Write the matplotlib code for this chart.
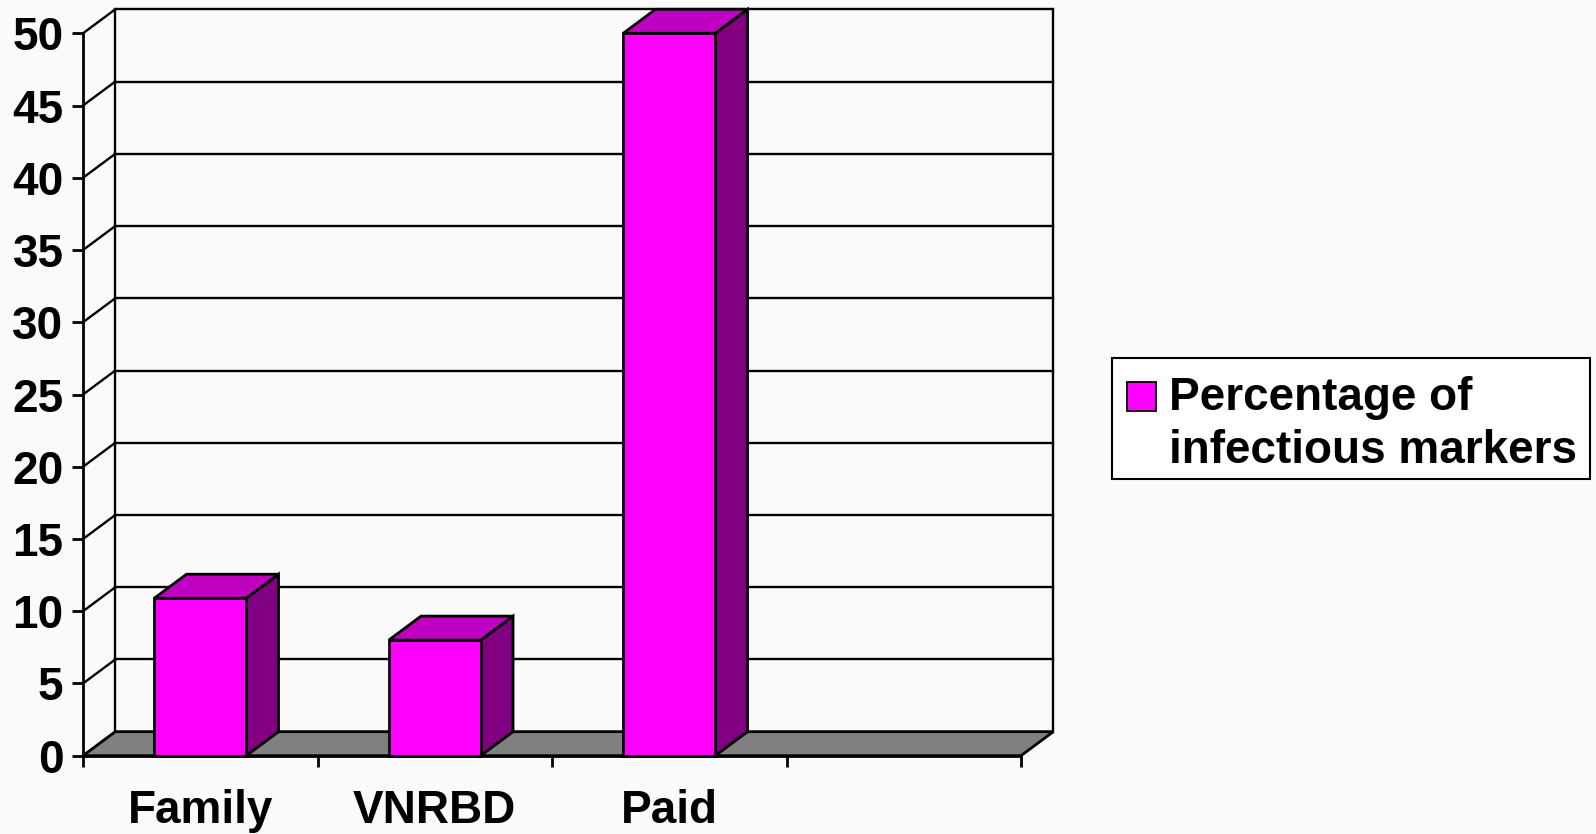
import matplotlib
matplotlib.use("Agg")
import matplotlib.pyplot as plt
from matplotlib.patches import Polygon, Rectangle

# ---- data ----
categories = ["Family", "VNRBD", "Paid", ""]
values = [10.9, 8, 50]
legend_lines = ["Percentage of", "infectious markers"]
yticks = [0, 5, 10, 15, 20, 25, 30, 35, 40, 45, 50]

# ---- style ----
BG = "#fafafa"
FRONT = "#ff00ff"
TOP = "#c000c0"
SIDE = "#800080"
FLOOR = "#808080"
FONT = "Liberation Sans"

W, H = 1596, 834
fig = plt.figure(figsize=(W / 100, H / 100), dpi=100)
fig.patch.set_facecolor(BG)

ax = fig.add_axes([83 / W, (834 - 755.7) / H, 938 / W, (755.7 - 33.3) / H])
ax.set_facecolor("none")
n = len(categories)
ax.set_xlim(0, n)
ax.set_ylim(0, 50)

# depth offsets (in data units)
ddx = 32.3 / (938 / n)
ddy = 24 / ((755.7 - 33.3) / 50)

lw = 2.0
glw = 1.7
kw = dict(clip_on=False, color="black")

# back wall
ax.add_patch(Rectangle((ddx, ddy), n, 50, facecolor=BG, edgecolor="black",
                       lw=glw, clip_on=False, zorder=1))
# gridlines on back wall + diagonals on side wall
for v in yticks:
    if 0 < v < 50:
        ax.plot([ddx, n + ddx], [v + ddy, v + ddy], zorder=2, lw=glw, **kw)
    ax.plot([0, ddx], [v, v + ddy], zorder=2, lw=glw, **kw)

# floor
ax.add_patch(Polygon([(0, 0), (n, 0), (n + ddx, ddy), (ddx, ddy)],
                     closed=True, facecolor=FLOOR, edgecolor="black",
                     lw=lw, clip_on=False, zorder=3))

# bars
bw = 92 / (938 / n)
for i, v in enumerate(values):
    x0 = i + 0.5 - bw / 2
    x1 = i + 0.5 + bw / 2
    ax.add_patch(Polygon([(x1, 0), (x1 + ddx, ddy), (x1 + ddx, v + ddy), (x1, v)],
                         closed=True, facecolor=SIDE, edgecolor="black",
                         lw=lw, clip_on=False, zorder=4, joinstyle="miter"))
    ax.add_patch(Polygon([(x0, v), (x1, v), (x1 + ddx, v + ddy), (x0 + ddx, v + ddy)],
                         closed=True, facecolor=TOP, edgecolor="black",
                         lw=lw, clip_on=False, zorder=4, joinstyle="miter"))
    ax.add_patch(Rectangle((x0, 0), bw, v, facecolor=FRONT, edgecolor="black",
                           lw=lw, clip_on=False, zorder=5, joinstyle="miter"))

# axes / ticks
for s in ["top", "right"]:
    ax.spines[s].set_visible(False)
for s in ["left", "bottom"]:
    ax.spines[s].set_linewidth(lw)
    ax.spines[s].set_zorder(6)

ax.set_yticks(yticks)
ax.set_yticklabels([str(t) for t in yticks], fontfamily=FONT,
                   fontweight="bold", fontsize=33)
ax.tick_params(axis="y", direction="out", length=8, width=lw, pad=6)

ax.set_xticks(range(n + 1))
ax.set_xticklabels([])
ax.tick_params(axis="x", which="major", direction="out", length=8, width=lw)
ax.set_xticks([i + 0.5 for i in range(n)], minor=True)
ax.set_xticklabels(categories, minor=True, fontfamily=FONT,
                   fontweight="bold", fontsize=33)
ax.tick_params(axis="x", which="minor", length=0, pad=24)

# legend (manual box)
fig.patches.append(Rectangle((1112 / W, (834 - 479) / H), 478 / W, 121 / H,
                             transform=fig.transFigure, facecolor="white",
                             edgecolor="black", lw=1.5, zorder=10))
fig.patches.append(Rectangle((1127 / W, (834 - 411) / H), 29 / W, 29 / H,
                             transform=fig.transFigure, facecolor=FRONT,
                             edgecolor="black", lw=1.3, zorder=11))
for k, (line, base) in enumerate(zip(legend_lines, [410, 463])):
    fig.text(1169 / W, (834 - base) / H, line, fontfamily=FONT,
             fontweight="bold", fontsize=33, va="baseline", ha="left",
             zorder=12)

fig.savefig("out.png", dpi=100, facecolor=BG)
